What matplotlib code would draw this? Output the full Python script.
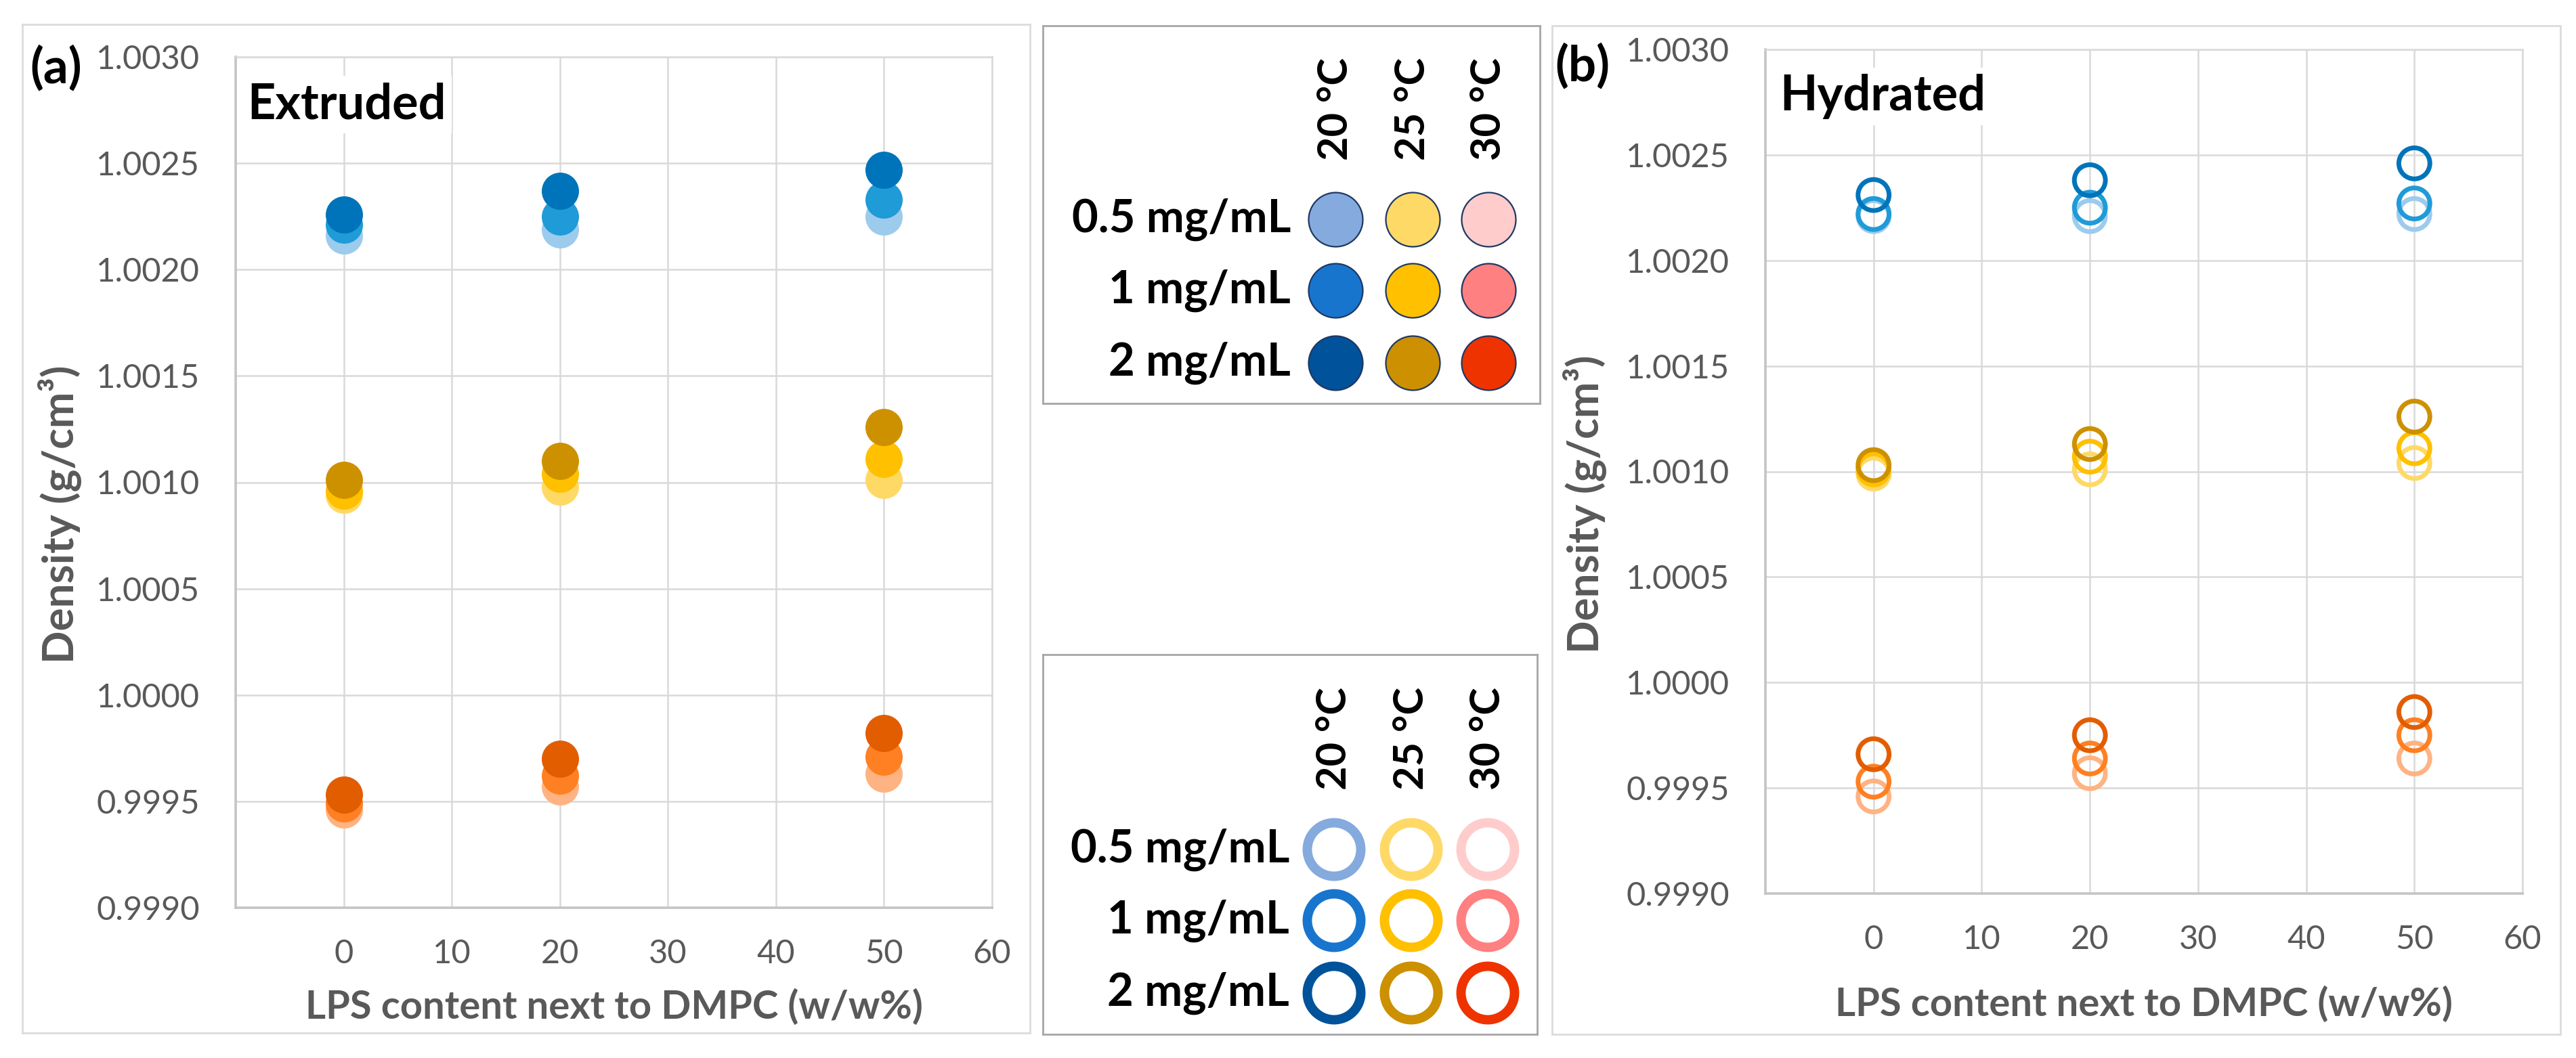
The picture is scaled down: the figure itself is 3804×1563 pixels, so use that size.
import matplotlib
matplotlib.use("Agg")
import matplotlib.pyplot as plt

plt.rcParams['font.family'] = ['Lato', 'DejaVu Sans']

# ---------------- data ----------------
lps_content = [0, 20, 50]
temperatures = ['20 °C', '25 °C', '30 °C']
concentrations = ['0.5 mg/mL', '1 mg/mL', '2 mg/mL']
x_ticks = [0, 10, 20, 30, 40, 50, 60]
y_ticks = [0.9990, 0.9995, 1.0000, 1.0005, 1.0010, 1.0015, 1.0020, 1.0025, 1.0030]

# Extruded (a): density per LPS content, for each temperature and concentration
ext_20C_05 = [1.00216, 1.00219, 1.00225]
ext_20C_1 = [1.00221, 1.00225, 1.00233]
ext_20C_2 = [1.00226, 1.00237, 1.00247]
ext_25C_05 = [1.00094, 1.00098, 1.00101]
ext_25C_1 = [1.00096, 1.00104, 1.00111]
ext_25C_2 = [1.00101, 1.00110, 1.00126]
ext_30C_05 = [0.99946, 0.99957, 0.99963]
ext_30C_1 = [0.99949, 0.99962, 0.99971]
ext_30C_2 = [0.99953, 0.99970, 0.99982]

# Hydrated (b)
hyd_20C_05 = [1.00221, 1.00221, 1.00222]
hyd_20C_1 = [1.00222, 1.00225, 1.00227]
hyd_20C_2 = [1.00231, 1.00238, 1.00246]
hyd_25C_05 = [1.00099, 1.00101, 1.00104]
hyd_25C_1 = [1.00101, 1.00107, 1.00111]
hyd_25C_2 = [1.00103, 1.00113, 1.00126]
hyd_30C_05 = [0.99946, 0.99957, 0.99964]
hyd_30C_1 = [0.99953, 0.99964, 0.99975]
hyd_30C_2 = [0.99966, 0.99975, 0.99986]

# ---------------- styles ----------------
plot_cols_20 = ['#9CCBEC', '#1F9BD7', '#0074BA']
plot_cols_25 = ['#FFD966', '#FFC000', '#CD9100']
plot_cols_30 = ['#FFB382', '#FF8022', '#E25D00']
leg_cols_20 = ['#85AADE', '#1875CD', '#00529B']
leg_cols_25 = ['#FFD966', '#FFC000', '#CC9000']
leg_cols_30 = ['#FFCCCC', '#FF8080', '#EE3300']

W, H = 3805, 1563
DPI = 100
GRID = '#d9d9d9'
TXT = '#595959'


def fr(x0, y0, x1, y1):
    return [x0 / W, 1 - y1 / H, (x1 - x0) / W, (y1 - y0) / H]


fig = plt.figure(figsize=(W / DPI, H / DPI), dpi=DPI)
fig.patch.set_facecolor('white')
renderer = fig.canvas.get_renderer()


def fit_size(s, target_px, weight='normal'):
    t = fig.text(0, 0, s, fontsize=100, fontweight=weight)
    w = t.get_window_extent(renderer=renderer).width
    t.remove()
    return 100.0 * target_px / w


FS_TICK = fit_size('1.0030', 153)
FS_XLAB = fit_size('LPS content next to DMPC (w/w%)', 913, 'bold')
FS_YLAB = fit_size('Density (g/cm³)', 440, 'bold')
FS_TITLE = fit_size('Hydrated', 304, 'bold')
FS_LETTER = fit_size('(a)', 77, 'bold')
FS_ROW = fit_size('0.5 mg/mL', 324, 'bold')
FS_HEAD = fit_size('20 °C', 152, 'bold')

# outer frames of the two panels
for box in [(33, 36, 1521, 1526), (2292, 38, 3781, 1528)]:
    bg = fig.add_axes(fr(*box), zorder=0)
    bg.set_xticks([])
    bg.set_yticks([])
    for s in bg.spines.values():
        s.set_color('#dcdcdc')
        s.set_linewidth(2.0)


def make_panel(rect, series, title, letter, letter_xy, hollow, title_xy,
               ylab_x, ylab_yc, xlab_y):
    ax = fig.add_axes(fr(*rect), zorder=2)
    ax.set_facecolor('white')
    ax.set_axisbelow(True)
    ax.set_xlim(-10, 60)
    ax.set_ylim(0.9990, 1.0030)
    ax.set_xticks(x_ticks)
    ax.set_yticks(y_ticks)
    ax.set_yticklabels([f'{v:.4f}' for v in y_ticks])
    ax.grid(True, color=GRID, linewidth=1.8)
    ax.tick_params(length=0, labelsize=FS_TICK, labelcolor=TXT)
    ax.tick_params(axis='y', pad=38)
    ax.tick_params(axis='x', pad=33)
    for side in ['top', 'right']:
        ax.spines[side].set_color(GRID)
        ax.spines[side].set_linewidth(1.8)
    for side in ['left', 'bottom']:
        ax.spines[side].set_color('#c4c4c4')
        ax.spines[side].set_linewidth(2.6)
    for vals, col in series:
        if hollow:
            ax.scatter(lps_content, vals, s=1089, facecolors='none',
                       edgecolors=col, linewidths=5, zorder=3)
        else:
            ax.scatter(lps_content, vals, s=1568, color=col,
                       linewidths=0, zorder=3)
    ax.set_xlabel('LPS content next to DMPC (w/w%)', fontsize=FS_XLAB,
                  fontweight='bold', color=TXT, va='center')
    ax.set_ylabel('Density (g/cm³)', fontsize=FS_YLAB, fontweight='bold',
                  color=TXT, va='center', ha='center')
    x0, y0, x1, y1 = rect
    ax.xaxis.set_label_coords(0.5, (y1 - xlab_y) / (y1 - y0))
    ax.yaxis.set_label_coords((ylab_x - x0) / (x1 - x0),
                              (y1 - ylab_yc) / (y1 - y0))
    tx, ty = title_xy
    ax.text((tx - x0) / (x1 - x0), (y1 - ty) / (y1 - y0), title,
            transform=ax.transAxes, fontsize=FS_TITLE, fontweight='bold',
            color='black', va='baseline', ha='left', zorder=6,
            bbox=dict(boxstyle='square,pad=0.12', facecolor='white',
                      edgecolor='none'))
    fig.text(letter_xy[0] / W, 1 - letter_xy[1] / H, letter,
             fontsize=FS_LETTER, fontweight='bold', color='black',
             ha='left', va='center', zorder=5)
    return ax


series_a = [
    (ext_20C_05, plot_cols_20[0]), (ext_20C_1, plot_cols_20[1]), (ext_20C_2, plot_cols_20[2]),
    (ext_25C_05, plot_cols_25[0]), (ext_25C_1, plot_cols_25[1]), (ext_25C_2, plot_cols_25[2]),
    (ext_30C_05, plot_cols_30[0]), (ext_30C_1, plot_cols_30[1]), (ext_30C_2, plot_cols_30[2]),
]
series_b = [
    (hyd_20C_05, plot_cols_20[0]), (hyd_20C_1, plot_cols_20[1]), (hyd_20C_2, plot_cols_20[2]),
    (hyd_25C_05, plot_cols_25[0]), (hyd_25C_1, plot_cols_25[1]), (hyd_25C_2, plot_cols_25[2]),
    (hyd_30C_05, plot_cols_30[0]), (hyd_30C_1, plot_cols_30[1]), (hyd_30C_2, plot_cols_30[2]),
]

make_panel((348, 84, 1465, 1341), series_a, 'Extruded', '(a)', (44, 101),
           False, (365, 175), 88, 760, 1488)
make_panel((2607, 73, 3725, 1320), series_b, 'Hydrated', '(b)', (2296, 98),
           True, (2628, 163), 2340, 745, 1484)


# ---------------- legend boxes ----------------
def make_legend(box, col_x, head_bottom, row_y, label_right, hollow):
    x0, y0, x1, y1 = box
    lg = fig.add_axes(fr(*box), zorder=3)
    lg.set_xlim(x0, x1)
    lg.set_ylim(y1, y0)
    lg.set_xticks([])
    lg.set_yticks([])
    for s in lg.spines.values():
        s.set_color('#a6a6a6')
        s.set_linewidth(2.0)
    cols = [leg_cols_20, leg_cols_25, leg_cols_30]
    for j, t in enumerate(temperatures):
        lg.text(col_x[j], head_bottom, t, rotation=90, fontsize=FS_HEAD,
                fontweight='bold', color='black', ha='center', va='bottom')
        for i in range(3):
            if hollow:
                lg.scatter([col_x[j]], [row_y[i]], s=3237, facecolors='none',
                           edgecolors=cols[j][i], linewidths=10)
            else:
                lg.scatter([col_x[j]], [row_y[i]], s=3318, color=cols[j][i],
                           edgecolors='#1F3864', linewidths=1.6)
    for i, c in enumerate(concentrations):
        lg.text(label_right, row_y[i], c, fontsize=FS_ROW, fontweight='bold',
                color='black', ha='right', va='center')


make_legend((1540, 38, 2274, 596), [1972, 2086, 2198], 237,
            [324, 429, 536], 1906, False)
make_legend((1540, 967, 2270, 1528), [1970, 2084, 2197], 1167,
            [1255, 1360, 1467], 1904, True)

fig.savefig('out.png', dpi=DPI, facecolor='white')
